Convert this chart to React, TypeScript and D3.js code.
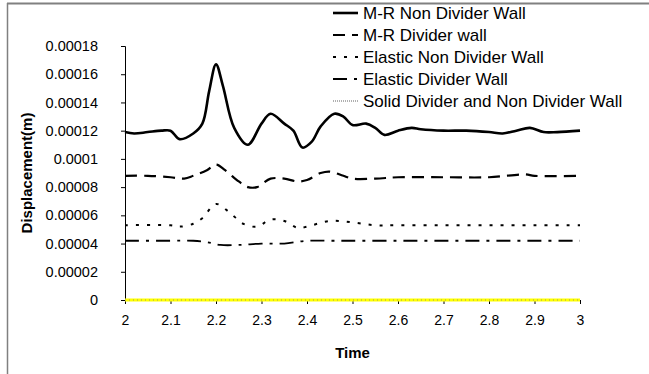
import React, { useEffect, useRef } from 'react';
import * as d3 from 'd3';

// time axis + displacement series
const mrNonDividerX = [2, 2.02, 2.05, 2.08, 2.1, 2.12, 2.15, 2.17, 2.185, 2.2, 2.215, 2.24, 2.27, 2.3, 2.32, 2.35, 2.37, 2.39, 2.41, 2.43, 2.46, 2.48, 2.5, 2.53, 2.55, 2.57, 2.6, 2.63, 2.65, 2.7, 2.75, 2.8, 2.83, 2.86, 2.89, 2.92, 2.95, 3];
const mrNonDivider = [0.000119, 0.000118, 0.000119, 0.00012, 0.00012, 0.000114, 0.000118, 0.000125, 0.000148, 0.000167, 0.000152, 0.000122, 0.00011, 0.000125, 0.000132, 0.000125, 0.00012, 0.000108, 0.000112, 0.000123, 0.000132, 0.00013, 0.000124, 0.000125, 0.000122, 0.000117, 0.00012, 0.000122, 0.000121, 0.00012, 0.00012, 0.000119, 0.000118, 0.00012, 0.000122, 0.000119, 0.000119, 0.00012];

const mrDividerX = [2, 2.05, 2.1, 2.13, 2.15, 2.18, 2.2, 2.22, 2.25, 2.27, 2.29, 2.32, 2.35, 2.38, 2.4, 2.43, 2.45, 2.48, 2.5, 2.55, 2.6, 2.7, 2.8, 2.88, 2.9, 3];
const mrDivider = [0.000088, 0.000088, 0.000087, 0.000086, 0.000088, 0.000092, 0.000096, 0.000092, 0.000084, 0.00008, 0.00008, 0.000086, 0.000086, 0.000084, 0.000085, 0.00009, 0.000091, 0.000088, 0.000086, 0.000086, 0.000087, 0.000087, 0.000087, 0.000089, 0.000088, 0.000088];

const elNonDividerX = [2, 2.1, 2.12, 2.15, 2.17, 2.2, 2.23, 2.26, 2.29, 2.32, 2.35, 2.38, 2.4, 2.45, 2.5, 2.55, 2.6, 2.7, 2.8, 2.9, 3];
const elNonDivider = [0.000053, 0.000053, 0.000052, 0.000054, 0.000058, 0.000068, 0.000062, 0.000054, 0.000052, 0.000057, 0.000056, 0.000051, 0.000052, 0.000056, 0.000055, 0.000053, 0.000053, 0.000053, 0.000053, 0.000053, 0.000053];

const elDividerX = [2, 2.1, 2.15, 2.18, 2.21, 2.25, 2.3, 2.35, 2.4, 2.45, 2.5, 2.6, 2.7, 2.8, 2.9, 3];
const elDivider = [0.000042, 0.000042, 0.000042, 0.000041, 0.000039, 0.000039, 0.00004, 0.00004, 0.000042, 0.000042, 0.000042, 0.000042, 0.000042, 0.000042, 0.000042, 0.000042];

const solidX = [2, 3];
const solid = [0, 0];

const xTicks = [2, 2.1, 2.2, 2.3, 2.4, 2.5, 2.6, 2.7, 2.8, 2.9, 3];
const yTicks = [0, 0.00002, 0.00004, 0.00006, 0.00008, 0.0001, 0.00012, 0.00014, 0.00016, 0.00018];
const yTickLabels = ['0', '0.00002', '0.00004', '0.00006', '0.00008', '0.0001', '0.00012', '0.00014', '0.00016', '0.00018'];

const seriesNames = ['M-R Non Divider Wall', 'M-R Divider wall', 'Elastic Non Divider Wall', 'Elastic Divider Wall', 'Solid Divider and Non Divider Wall'];

const App = () => {
  const ref = useRef<SVGSVGElement>(null);
  const width = 649;
  const height = 374;

  useEffect(() => {
    const svg = d3.select(ref.current);
    svg.selectAll('*').remove();

    const font = '"Liberation Sans", Arial, sans-serif';
    const left = 125;
    const right = 580;
    const top = 46;
    const bottom = 300;

    const x = d3.scaleLinear().domain([2, 3]).range([left, right]);
    const y = d3.scaleLinear().domain([0, 0.00018]).range([bottom, top]);

    // outer frame (only left and top edges show)
    svg.append('line').attr('x1', 7.5).attr('x2', 7.5).attr('y1', 3).attr('y2', height).attr('stroke', '#808080').attr('stroke-width', 1.5);
    svg.append('line').attr('x1', 7).attr('x2', width).attr('y1', 3.5).attr('y2', 3.5).attr('stroke', '#808080').attr('stroke-width', 2);

    const yAxis = svg
      .append('g')
      .attr('transform', `translate(${left},0)`)
      .call(d3.axisLeft(y).tickValues(yTicks).tickSize(4).tickFormat((d, i) => yTickLabels[i]));
    const xAxis = svg
      .append('g')
      .attr('transform', `translate(0,${bottom})`)
      .call(d3.axisBottom(x).tickValues(xTicks).tickSize(4).tickFormat(d => String(d)));

    [xAxis, yAxis].forEach(g => {
      g.select('.domain').attr('stroke', '#000').attr('stroke-width', 1);
      g.selectAll('.tick line').attr('stroke', '#000');
      g.selectAll('text').attr('font-family', font).attr('font-size', 14).attr('fill', '#000');
    });
    yAxis.selectAll('text').attr('x', -27).attr('font-size', 14.5);
    xAxis.selectAll('text').attr('dy', '1.25em');

    svg
      .append('text')
      .attr('x', (left + right) / 2)
      .attr('y', 358)
      .attr('text-anchor', 'middle')
      .attr('font-family', font)
      .attr('font-weight', 'bold')
      .attr('font-size', 15)
      .text('Time');

    svg
      .append('text')
      .attr('transform', `translate(32,${(top + bottom) / 2}) rotate(-90)`)
      .attr('text-anchor', 'middle')
      .attr('font-family', font)
      .attr('font-weight', 'bold')
      .attr('font-size', 15)
      .text('Displacement(m)');

    const line = d3
      .line<[number, number]>()
      .x(d => x(d[0]))
      .y(d => y(d[1]))
      .curve(d3.curveCatmullRom);

    const styles = [
      { color: '#000', w: 2.6, dash: null },
      { color: '#000', w: 2.2, dash: '12,7' },
      { color: '#000', w: 2, dash: '3,8' },
      { color: '#000', w: 1.8, dash: '14,7,3,7' },
      { color: '#ffff00', w: 3, dash: null }
    ];
    const xs = [mrNonDividerX, mrDividerX, elNonDividerX, elDividerX, solidX];
    const ys = [mrNonDivider, mrDivider, elNonDivider, elDivider, solid];

    const plot = svg.append('g');
    xs.forEach((xv, i) => {
      const pts = xv.map((v, j) => [v, ys[i][j]] as [number, number]);
      const st = styles[i];
      plot
        .append('path')
        .attr('d', line(pts))
        .attr('fill', 'none')
        .attr('stroke', st.color)
        .attr('stroke-width', st.w)
        .attr('stroke-dasharray', st.dash);
      if (i === 4) {
        plot
          .append('path')
          .attr('d', line(pts))
          .attr('fill', 'none')
          .attr('stroke', '#9a9a60')
          .attr('stroke-width', 1)
          .attr('stroke-dasharray', '1,3');
      }
    });

    // legend
    const legend = svg.append('g').attr('transform', 'translate(333, 13)');
    seriesNames.forEach((name, i) => {
      const row = legend.append('g').attr('transform', `translate(0, ${i * 22})`);
      const st = styles[i];
      row
        .append('line')
        .attr('x1', 0)
        .attr('x2', 25)
        .attr('stroke', i === 4 ? '#b0b0b0' : st.color)
        .attr('stroke-width', i === 4 ? 2 : st.w)
        .attr('stroke-dasharray', i === 4 ? '1,1' : st.dash);
      row
        .append('text')
        .attr('x', 30)
        .attr('dy', '0.35em')
        .attr('font-family', font)
        .attr('font-size', 17)
        .text(name);
    });
  }, []);

  return (
    <svg
      ref={ref}
      width={width}
      height={height}
      style={{ position: 'absolute', left: 0, top: 0, background: '#fff' }}
    />
  );
};

export default App;
